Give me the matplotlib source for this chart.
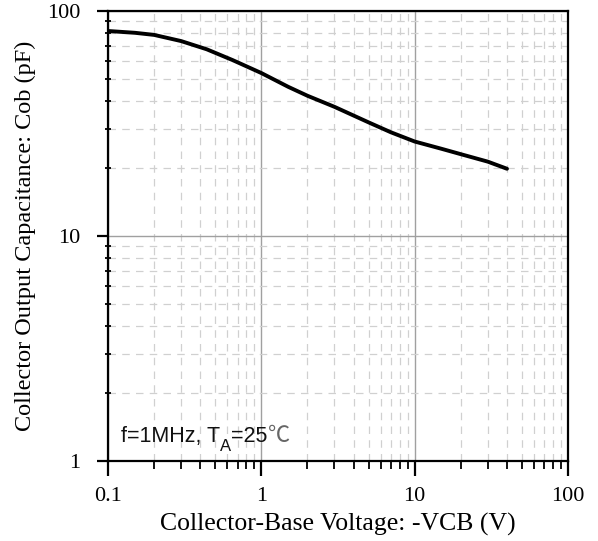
import numpy as np
import matplotlib as mpl
mpl.use('agg')
import matplotlib.pyplot as plt
from matplotlib.ticker import LogLocator, NullFormatter, FixedLocator, FixedFormatter

# values
vcb = [0.1, 0.15, 0.2, 0.3, 0.44, 0.65, 1, 1.5, 2, 3, 5, 7, 10, 15, 20, 30, 40]
cob = [81.5, 80.0, 78.3, 73.5, 67.6, 60.5, 53, 46, 42, 37.5, 32, 28.9, 26.3, 24.4, 23.1, 21.4, 19.9]

x_ticks = [0.1, 1, 10, 100]
x_labels = ['0.1', '1', '10', '100']
y_ticks = [1, 10, 100]
y_labels = ['1', '10', '100']

serif = ['Liberation Serif', 'DejaVu Serif']

fig = plt.figure(figsize=(5.98, 5.41), dpi=100)
ax = fig.add_axes([108 / 598, 1 - 461 / 541, 460 / 598, 450 / 541])

ax.plot(vcb, cob, color='black', lw=2.8, solid_capstyle='round', solid_joinstyle='round', zorder=3)

ax.set_xscale('log')
ax.set_yscale('log')
ax.set_xlim(0.1, 100)
ax.set_ylim(1, 100)

ax.xaxis.set_major_locator(FixedLocator(x_ticks))
ax.xaxis.set_major_formatter(FixedFormatter(x_labels))
ax.yaxis.set_major_locator(FixedLocator(y_ticks))
ax.yaxis.set_major_formatter(FixedFormatter(y_labels))
ax.xaxis.set_minor_locator(LogLocator(base=10, subs=np.arange(2, 10)))
ax.yaxis.set_minor_locator(LogLocator(base=10, subs=np.arange(2, 10)))
ax.xaxis.set_minor_formatter(NullFormatter())
ax.yaxis.set_minor_formatter(NullFormatter())

ax.grid(which='major', color='#a0a0a0', lw=1.0, ls='-')
ax.grid(which='minor', color='#d0d0d0', lw=0.9, ls=(0, (6, 5)))
ax.set_axisbelow(True)

for s in ax.spines.values():
    s.set_linewidth(1.6)
    s.set_color('black')

ax.tick_params(axis='x', which='major', direction='out', length=11, width=1.6, pad=8)
ax.tick_params(axis='x', which='minor', direction='out', length=6, width=1.3)
ax.tick_params(axis='y', which='major', direction='out', length=8, width=1.6, pad=12)
ax.tick_params(axis='y', which='minor', direction='inout', length=5, width=1.3)

for lab in ax.get_xticklabels() + ax.get_yticklabels():
    lab.set_family(serif)
    lab.set_fontsize(16)

ax.set_xlabel('Collector-Base Voltage: -VCB (V)', family=serif, fontsize=18.5, labelpad=5)
ax.set_ylabel('Collector Output Capacitance: Cob (pF)', family=serif, fontsize=17.5, labelpad=8)

# annotation with subscript built from pieces
fig.canvas.draw()
r = fig.canvas.get_renderer()
W = fig.bbox.width
sans = ['Liberation Sans', 'DejaVu Sans']
base_y = 1 - 442 / 541
t1 = fig.text(121 / 598, base_y, 'f=1MHz, T', family=sans, fontsize=15.5, color='#111111')
b1 = t1.get_window_extent(r)
t2 = fig.text(b1.x1 / W, 1 - 451 / 541, 'A', family=sans, fontsize=12, color='#111111')
b2 = t2.get_window_extent(r)
t3 = fig.text(b2.x1 / W, base_y, '=25', family=sans, fontsize=15.5, color='#111111')
b3 = t3.get_window_extent(r)
fig.text(b3.x1 / W, base_y, '\u2103', family=['Noto Sans CJK SC', 'DejaVu Sans'],
         fontsize=16, color='#666666')

plt.savefig('out.png', dpi=100)
plt.close()
